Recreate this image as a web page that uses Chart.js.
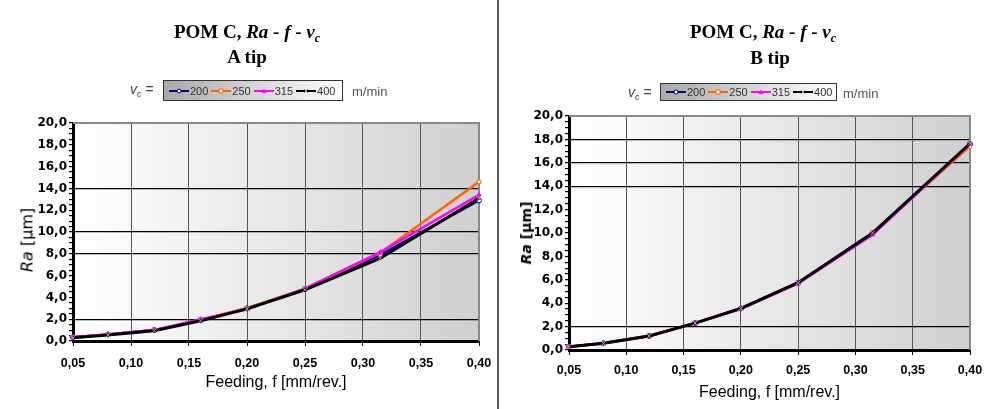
<!DOCTYPE html>
<html>
<head>
<meta charset="utf-8">
<script src="https://cdn.jsdelivr.net/npm/chart.js@4.4.1/dist/chart.umd.min.js"></script>
<style>
  body { margin: 0; background: #fff; width: 987px; height: 409px; position: relative; overflow: hidden; font-family: "Liberation Sans", Arial, sans-serif; }
  canvas { position: absolute; top: 0; }
  #cA { left: 0; }
  #cB { left: 500px; }
  .sep { position: absolute; left: 497px; top: 0; width: 2px; height: 409px; background: #555; }
  .title { position: absolute; font-family: "Liberation Serif", "Times New Roman", serif; font-weight: bold; font-size: 19px; white-space: nowrap; transform: translate(-50%, -50%); line-height: 1; }
  .vc { position: absolute; font-size: 14px; color: #444; white-space: nowrap; transform: translateY(-50%); }
  .unit { position: absolute; font-size: 13px; color: #555; white-space: nowrap; transform: translateY(-50%); }
  .legend { position: absolute; border: 1px solid #333; background: linear-gradient(to right, #a9a9a9, #ffffff); display: flex; align-items: center; box-sizing: border-box; padding-left: 5px; font-size: 11px; color: #333; }
  .legend span.item { display: inline-flex; align-items: center; margin-right: 3px; }
  .legend svg { margin-right: 1px; }
  .ytitle { position: absolute; font-family: "DejaVu Sans", sans-serif; font-size: 16px; color: #000; white-space: nowrap; transform: translate(-50%, -50%) rotate(-90deg); }
</style>
</head>
<body>
<canvas id="cA" width="497" height="409"></canvas>
<canvas id="cB" width="487" height="409"></canvas>
<div class="sep"></div>

<div class="title" style="left:247px; top:33px;">POM C, <i>Ra</i> - <i>f</i> - <i>v<sub style="font-size:12px">c</sub></i></div>
<div class="title" style="left:247px; top:56px;">A tip</div>
<div class="title" style="left:763px; top:33px;">POM C, <i>Ra</i> - <i>f</i> - <i>v<sub style="font-size:12px">c</sub></i></div>
<div class="title" style="left:770px; top:57px;">B tip</div>

<div class="vc" style="left:130px; top:90px;"><i>v<sub style="font-size:9px">c</sub></i> =</div>
<div class="legend" id="legA" style="left:163px; top:80px; width:180px; height:21px;"></div>
<div class="unit" style="left:352px; top:91px;">m/min</div>

<div class="vc" style="left:628px; top:93px;"><i>v<sub style="font-size:9px">c</sub></i> =</div>
<div class="legend" id="legB" style="left:660px; top:83px; width:177px; height:18px;"></div>
<div class="unit" style="left:843px; top:93px;">m/min</div>

<div class="ytitle" style="left:27px; top:240px;"><i>Ra</i> [µm]</div>
<div class="ytitle" style="left:526px; top:233px; font-weight:bold; font-size:14px;"><i>Ra</i> [µm]</div>

<script>
// feeding values (mm/rev.)
const feedRates = [0.05, 0.08, 0.12, 0.16, 0.20, 0.25, 0.315, 0.40];
const speeds = ['200', '250', '315', '400'];

// A tip - Ra (µm)
const raA200 = [0.35, 0.60, 1.00, 1.90, 3.00, 4.75, 7.90, 12.90];
const raA250 = [0.35, 0.60, 1.00, 1.95, 3.00, 4.80, 8.10, 14.60];
const raA315 = [0.35, 0.60, 1.00, 2.00, 2.90, 4.80, 8.15, 13.40];
const raA400 = [0.30, 0.55, 0.95, 1.85, 2.95, 4.70, 7.60, 13.10];

// B tip - Ra (µm)
const raB200 = [0.28, 0.57, 1.20, 2.30, 3.55, 5.75, 10.00, 17.60];
const raB250 = [0.28, 0.57, 1.20, 2.30, 3.55, 5.75, 10.00, 17.40];
const raB315 = [0.28, 0.57, 1.20, 2.30, 3.50, 5.70, 9.85, 17.60];
const raB400 = [0.28, 0.57, 1.20, 2.30, 3.55, 5.75, 10.00, 17.65];

// horizontal grid lines that show up in the original
const gridLinesA = [2, 8, 10, 14];
const gridLinesB = [2, 14, 16, 18];

const colors = ['#000080', '#ff6600', '#ff00ff', '#000000'];
const markers = ['circle', 'rect', 'triangle', 'crossRot'];

function toPoints(vals) {
    return feedRates.map((f, i) => ({ x: f, y: vals[i] }));
}

function makeDatasets(series) {
    return series.map((vals, i) => ({
        label: speeds[i],
        data: toPoints(vals),
        borderColor: colors[i],
        borderWidth: i === 3 ? 3 : 2.5,
        pointStyle: markers[i],
        pointRadius: i === 3 ? 3.5 : 2.5,
        pointBorderWidth: 1,
        pointBorderColor: i === 3 ? '#aaaaaa' : colors[i],
        pointBackgroundColor: i === 2 ? colors[i] : '#ffffff',
        order: 3 - i,
        clip: false,
        tension: 0
    }));
}

// plot area gradient + grey top/right border
const plotBg = {
    id: 'plotBg',
    beforeDraw(chart) {
        const { ctx, chartArea: a } = chart;
        const g = ctx.createLinearGradient(a.left, 0, a.right, 0);
        g.addColorStop(0, '#ffffff');
        g.addColorStop(1, '#d0d0d0');
        ctx.save();
        ctx.fillStyle = g;
        ctx.fillRect(a.left, a.top, a.width, a.height);
        ctx.restore();
    },
    beforeDatasetsDraw(chart) {
        const { ctx, chartArea: a } = chart;
        ctx.save();
        ctx.strokeStyle = '#8a8a8a';
        ctx.lineWidth = 2;
        ctx.beginPath();
        ctx.moveTo(a.left, a.top);
        ctx.lineTo(a.right, a.top);
        ctx.lineTo(a.right, a.bottom);
        ctx.stroke();
        ctx.restore();
    }
};

function makeChart(id, series, gridLines, cfg) {
    return new Chart(document.getElementById(id), {
        type: 'line',
        data: { datasets: makeDatasets(series) },
        options: {
            responsive: false,
            animation: false,
            layout: { padding: { top: cfg.top, right: cfg.right, left: 0, bottom: 0 } },
            plugins: { legend: { display: false }, tooltip: { enabled: false } },
            scales: {
                x: {
                    type: 'linear',
                    min: 0.05,
                    max: 0.40,
                    afterFit: s => {
                        s.height = cfg.xHeight;
                        s.paddingLeft = 0;
                        s.paddingRight = 0;
                    },
                    ticks: {
                        stepSize: 0.05,
                        padding: cfg.xPad,
                        color: '#000',
                        font: { family: 'Liberation Sans', size: 12.5, weight: 'bold' },
                        callback: v => v.toFixed(2).replace('.', ',')
                    },
                    grid: { color: '#555', lineWidth: 1, tickLength: 5, tickColor: '#000' },
                    border: { color: '#000', width: 3 },
                    title: {
                        display: true,
                        text: 'Feeding, f [mm/rev.]',
                        color: '#000',
                        font: { family: 'Liberation Sans', size: 16 },
                        padding: { top: 0, bottom: cfg.titlePad }
                    }
                },
                y: {
                    min: 0,
                    max: 20,
                    afterFit: s => {
                        s.width = cfg.yWidth;
                        s.paddingTop = 0;
                        s.paddingBottom = 0;
                    },
                    ticks: {
                        stepSize: 0.5,
                        autoSkip: false,
                        maxTicksLimit: 100,
                        padding: 2,
                        color: '#000',
                        font: { family: 'DejaVu Sans', size: 12, weight: 'bold' },
                        callback: v => (Math.abs(v % 2) < 1e-6 ? v.toFixed(1).replace('.', ',') : '')
                    },
                    grid: {
                        color: c => (c.tick && gridLines.includes(c.tick.value) ? '#000' : 'rgba(0,0,0,0)'),
                        lineWidth: 1.2,
                        tickLength: 4,
                        tickColor: '#000'
                    },
                    border: { color: '#000', width: 3 }
                }
            }
        },
        plugins: [plotBg]
    });
}

makeChart('cA', [raA200, raA250, raA315, raA400], gridLinesA,
    { top: 123, right: 18, yWidth: 73, xHeight: 68, xPad: 10, titlePad: 17 });
makeChart('cB', [raB200, raB250, raB315, raB400], gridLinesB,
    { top: 116, right: 17, yWidth: 69, xHeight: 59, xPad: 8, titlePad: 7 });

// legends (Excel-like: line sample with marker, then the speed)
function markerSvg(i) {
    const c = colors[i];
    let m = '';
    if (i === 0) m = `<circle cx="10" cy="4" r="2" fill="#fff" stroke="${c}" stroke-width="1"/>`;
    if (i === 1) m = `<rect x="8" y="2" width="4" height="4" fill="#fff" stroke="${c}" stroke-width="1"/>`;
    if (i === 2) m = `<polygon points="10,1.5 12.5,6 7.5,6" fill="${c}"/>`;
    if (i === 3) m = `<path d="M8 2 L12 6 M12 2 L8 6" stroke="#999" stroke-width="1"/>`;
    return `<svg width="20" height="8"><line x1="0" y1="4" x2="20" y2="4" stroke="${c}" stroke-width="2"/>${m}</svg>`;
}
['legA', 'legB'].forEach(id => {
    document.getElementById(id).innerHTML = speeds
        .map((s, i) => `<span class="item">${markerSvg(i)}${s}</span>`)
        .join('');
});
</script>
</body>
</html>
